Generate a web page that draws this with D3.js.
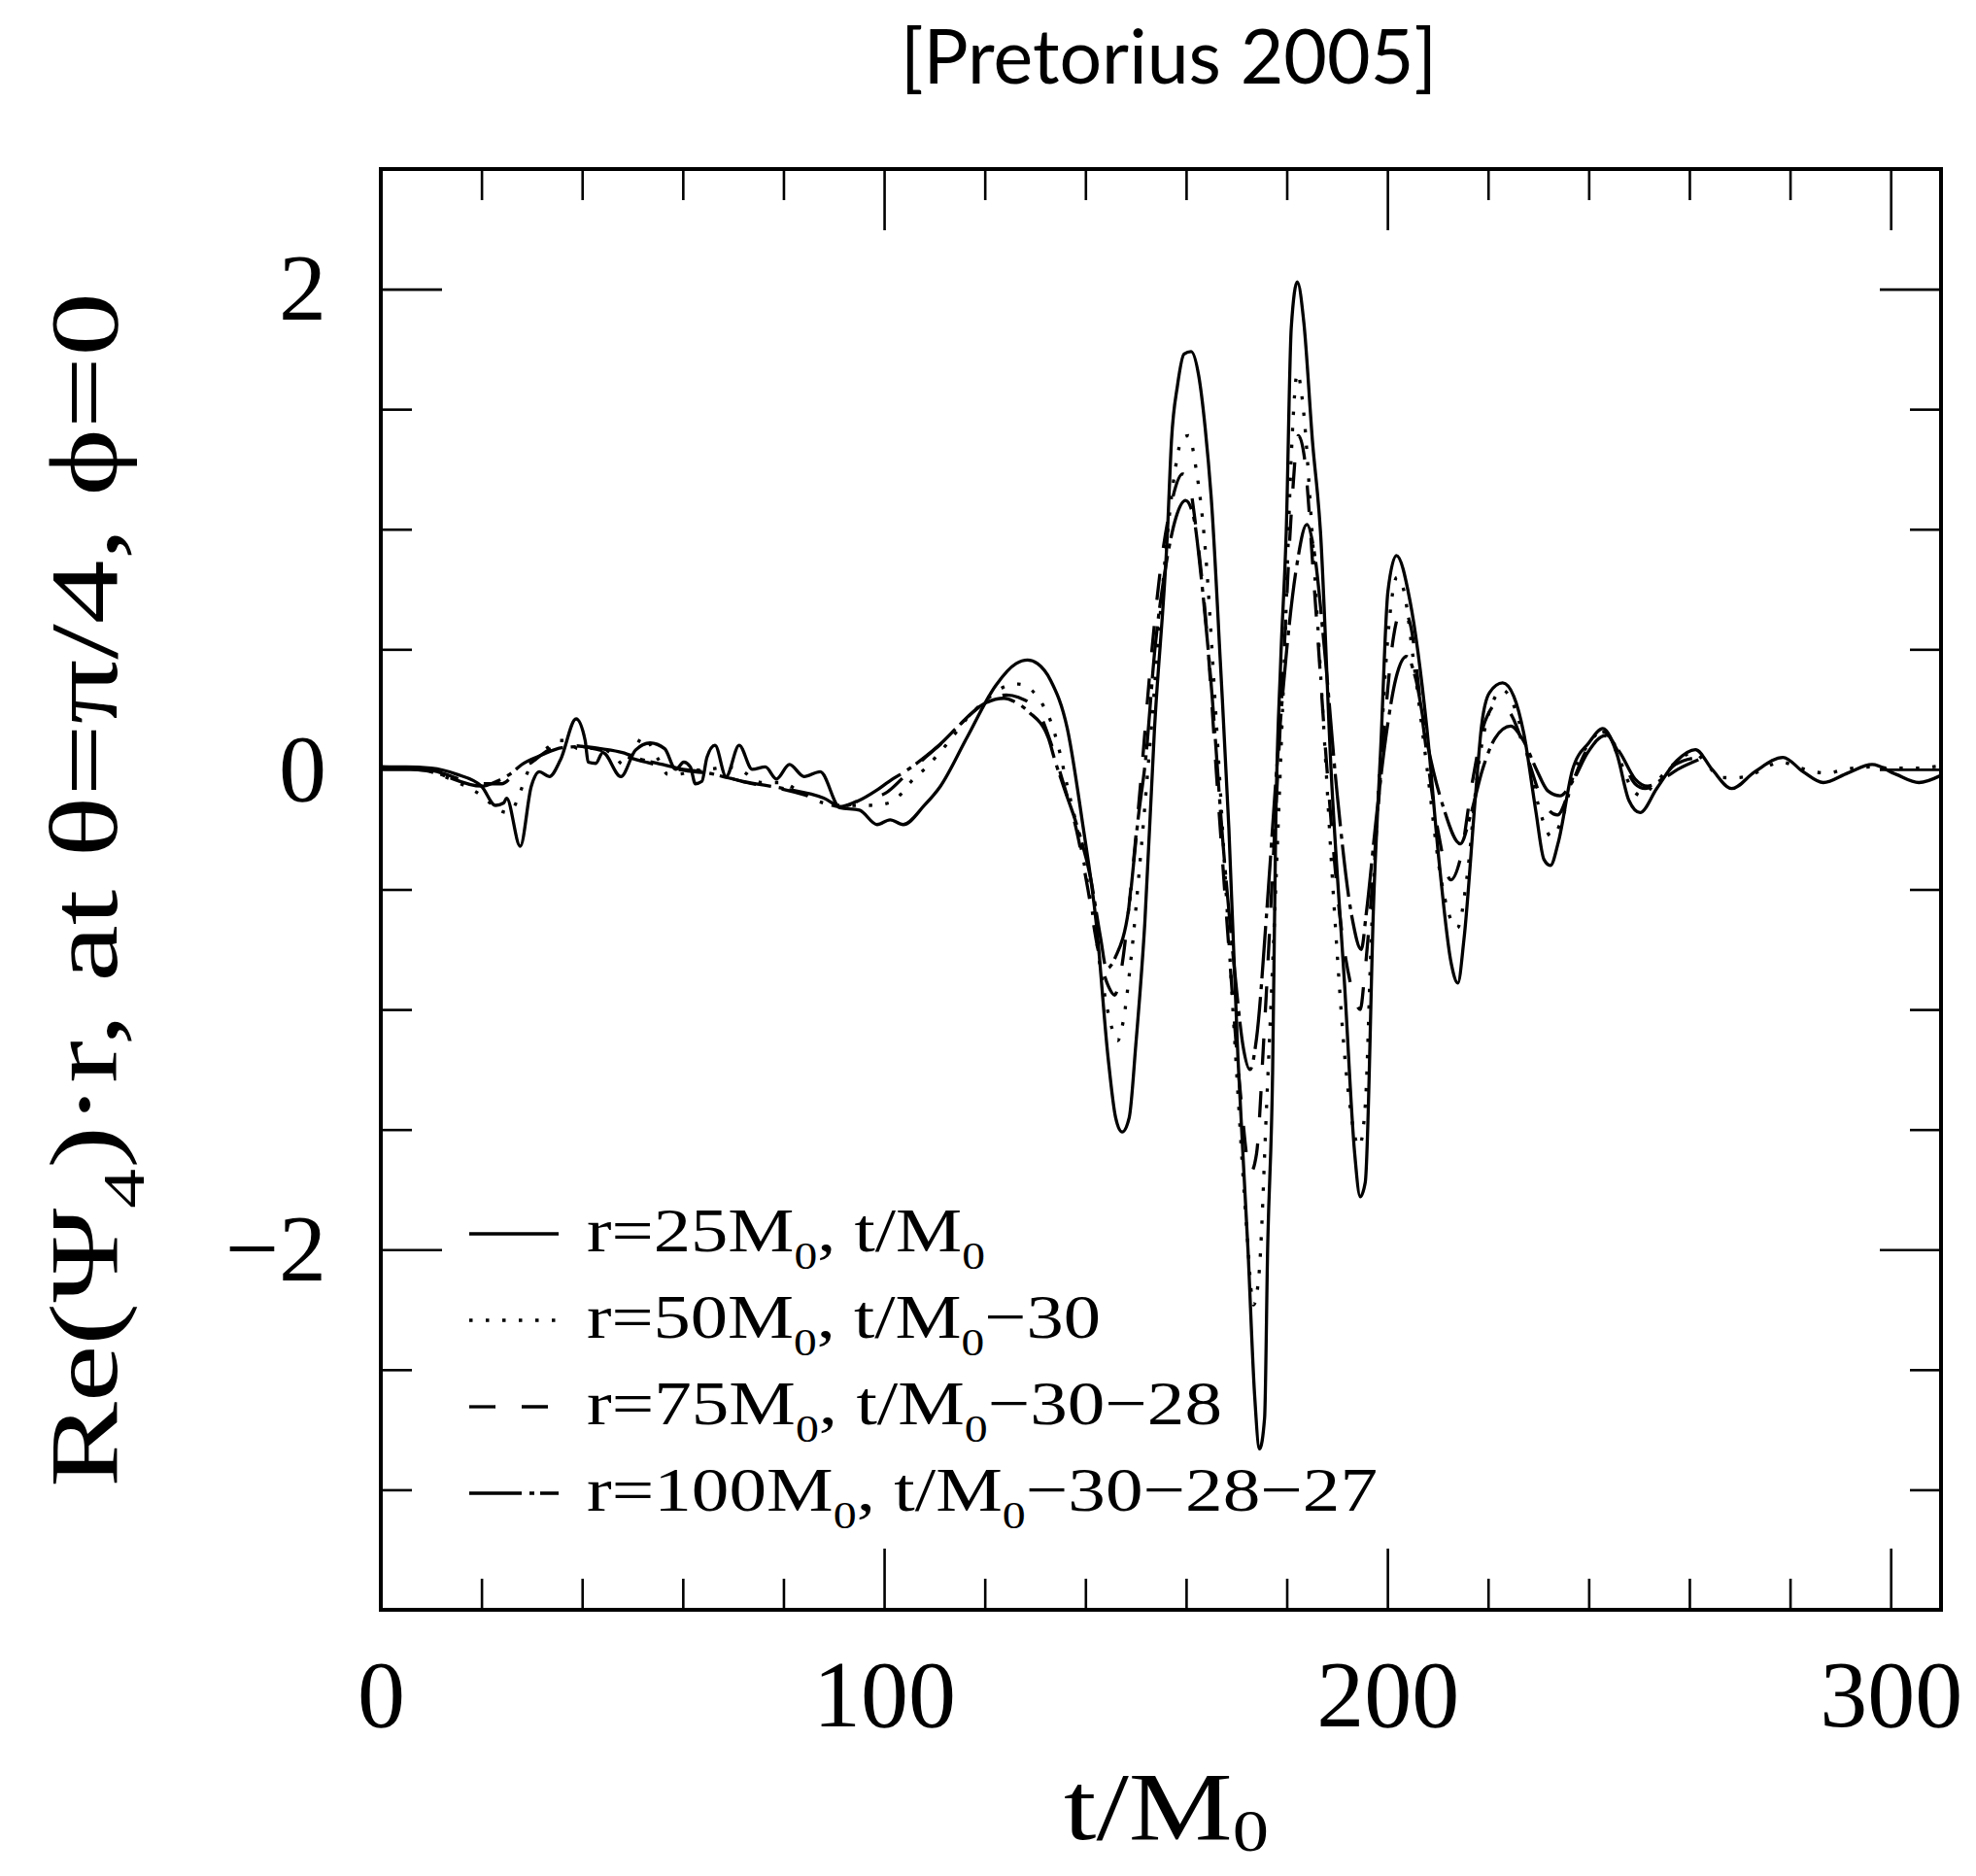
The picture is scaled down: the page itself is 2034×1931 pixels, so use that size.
<!DOCTYPE html>
<html>
<head>
<meta charset="utf-8">
<script src="https://cdn.jsdelivr.net/npm/d3@7"></script>
<style>
  body { margin: 0; background: #fff; }
  .frame { fill: none; stroke: #000; stroke-width: 4; }
  .ticks path.domain, .labels path.domain { display: none; }
  .ticks line { stroke: #000; stroke-width: 2.6; }
  .labels text { font-family: "Liberation Serif", serif; font-size: 98px; fill: #000; }
  .lc-line { fill: none; stroke: #000; stroke-width: 3.3; stroke-linejoin: round; }
  .lc-label { font-family: "Liberation Serif", serif; fill: #000; }
  .title { font-family: "Lato", sans-serif; font-weight: 400; font-size: 78px; fill: #000; }
</style>
</head>
<body>
<div id="chart"></div>
<script>
// Re(Psi4) r waveforms, four extraction radii, shifted in time

// [t, value]
var r25 = [
    [0, 0.01], [5, 0.01], [10, 0.005], [15, -0.02], [20, -0.07], [22.8, -0.15], [24.4, -0.14], [25, -0.12],
    [27.7, -0.32], [29.9, -0.07], [31.5, -0.01], [33.5, -0.03], [35.7, 0.04], [38.8, 0.21], [40.6, 0.12],
    [41.2, 0.03], [42.7, 0.025], [44.1, 0.07], [47.7, -0.03], [50.6, 0.08], [53.5, 0.11], [56.4, 0.086],
    [58.6, 0.0], [60.2, 0.03], [61.5, 0.01], [62.5, -0.06], [63.8, -0.05], [64.8, 0.05], [66.4, 0.10],
    [68.6, -0.03], [71.2, 0.10], [73.8, 0.0], [76.4, 0.01], [78.6, -0.04], [81.2, 0.02], [84.1, -0.03],
    [87.3, -0.01], [91.2, -0.16], [95.1, -0.17], [98.6, -0.23], [101.2, -0.21], [103.8, -0.23], [108, -0.15],
    [111.2, -0.07], [116.4, 0.13], [122.2, 0.35], [126.2, 0.44], [128.5, 0.455], [130.5, 0.44], [133.1, 0.37],
    [136.4, 0.17], [139.4, -0.22], [142.2, -0.65], [144.5, -1.2], [146, -1.45], [147.3, -1.51], [148.7, -1.45],
    [150, -1.15], [151.8, -0.64], [153.7, 0.16], [156.3, 0.99], [157.1, 1.37], [158.3, 1.60], [159.6, 1.73],
    [161, 1.74], [162.5, 1.64], [163.8, 1.42], [165.1, 1.10], [166.8, 0.45], [168.5, -0.245], [170.3, -1.2],
    [172.3, -2.0], [173.6, -2.6], [174.6, -2.83], [175.6, -2.7], [176.2, -2.0], [177.2, -1.25], [177.8, -0.25],
    [178.8, 0.45], [179.9, 0.99], [180.9, 1.84], [182.1, 2.03], [183.4, 1.86], [185.1, 1.37], [186.7, 0.99],
    [188.8, 0.0], [191.5, -0.9], [193.5, -1.6], [194.6, -1.78], [195.6, -1.72], [197.3, -0.53], [198.7, 0.1],
    [200.1, 0.74], [201.8, 0.89], [204.5, 0.70], [207.8, 0.18], [210.3, -0.39], [212.7, -0.81], [214.0, -0.89],
    [215.2, -0.71], [217.5, -0.11], [218.7, 0.18], [220.3, 0.32], [222.9, 0.36], [225.1, 0.305], [227.1, 0.15],
    [229.5, -0.175], [231.1, -0.375], [232.4, -0.40], [234, -0.30], [236.8, 0.0], [240, 0.11], [242.8, 0.17],
    [245.6, 0.064], [248, -0.13], [250.2, -0.18], [253.5, -0.08], [257.5, 0.036], [261.2, 0.082], [264.5, 0.0],
    [268.4, -0.08], [273, -0.01], [278.6, 0.05], [282.6, -0.01], [286.6, -0.055], [291.5, -0.015], [296.3, 0.02],
    [301, -0.02], [305.6, -0.055], [310, -0.025]
];

var r50 = [
    [0, 0.01], [8, 0.0], [13.8, -0.04], [19, -0.095], [25.1, -0.18], [26.5, -0.155], [27.7, -0.095], [29, -0.02],
    [31, 0.05], [33.1, 0.09], [35.4, 0.12], [37, 0.12], [39.1, 0.087], [43.6, 0.087], [46.2, 0.06], [48.2, 0.02],
    [50.2, 0.07], [52, 0.135], [55.2, 0.04], [57, -0.02], [59.2, -0.02], [62.1, -0.005], [65.3, 0.0], [68.5, 0.01],
    [71.2, 0.0], [75.7, -0.055], [79.6, -0.055], [83.4, -0.095], [88, -0.14], [91.2, -0.15], [97, -0.15],
    [100.9, -0.14], [103.5, -0.10], [105.4, -0.05], [108.2, 0.005], [112.5, 0.106], [116.4, 0.21], [120.3, 0.29],
    [124.7, 0.35], [126.7, 0.355], [129.3, 0.33], [131.5, 0.27], [133.1, 0.2], [134.8, 0.08], [136.4, -0.07],
    [138.3, -0.24], [140.2, -0.445], [141.5, -0.61], [143.5, -0.9], [145.3, -1.08], [146.4, -1.13], [147.5, -1.05],
    [149, -0.8], [151, -0.35], [153.2, 0.2], [155.5, 0.8], [157.5, 1.2], [159.3, 1.38], [160.5, 1.39], [162, 1.25],
    [163.6, 0.97], [166, 0.2], [168.2, -0.6], [170.3, -1.35], [172, -1.9], [173.4, -2.23], [174.5, -2.1],
    [176, -1.4], [177.8, -0.5], [179.6, 0.5], [181, 1.35], [182.1, 1.65], [183.3, 1.5], [185, 1.0], [187, 0.3],
    [189.5, -0.6], [192, -1.3], [194.4, -1.57], [195.6, -1.4], [196.8, -0.7], [198.6, 0.05], [200.3, 0.6],
    [201.9, 0.80], [203.2, 0.75], [205.2, 0.45], [207.9, 0.0], [210.6, -0.45], [213.9, -0.66], [215.8, -0.45],
    [218, 0.0], [220.4, 0.25], [222.9, 0.33], [225.4, 0.25], [227.9, 0.05], [230.4, -0.18], [232.6, -0.28],
    [234.8, -0.2], [237.3, 0.0], [239.8, 0.1], [242.8, 0.16], [245.8, 0.06], [248.3, -0.07], [250.4, -0.11],
    [253.5, -0.05], [256.8, 0.02], [260.8, 0.07], [264, 0.008], [266, -0.034], [268.9, -0.035], [272.1, -0.025],
    [275.3, 0.01], [278.2, 0.03], [281.5, 0.01], [284.6, -0.01], [287.6, -0.015], [290.8, 0.0], [296, 0.01],
    [300, 0.005], [305, 0.005], [310, 0.015]
];

var r75 = [
    [0, 0.01], [10, -0.005], [20, -0.06], [24, -0.06], [27, -0.01], [30, 0.03], [33.8, 0.086], [37, 0.10],
    [40, 0.095], [43.6, 0.08], [47.5, 0.06], [52.7, 0.03], [56.6, 0.01], [60.5, -0.005], [66.3, -0.02],
    [72.7, -0.055], [79.2, -0.08], [85.6, -0.115], [91.2, -0.155], [95, -0.13], [100.2, -0.10], [104, -0.03],
    [108.2, 0.05], [112, 0.12], [117.2, 0.23], [121, 0.29], [124.3, 0.31], [126.7, 0.30], [130.6, 0.24],
    [133.2, 0.106], [135.5, -0.05], [138.3, -0.26], [140.5, -0.5], [142.5, -0.75], [144.5, -0.9], [145.8, -0.94],
    [147, -0.85], [149, -0.5], [151, -0.05], [153, 0.45], [155, 0.85], [157, 1.1], [159.3, 1.23], [160.5, 1.2],
    [162, 1.0], [164, 0.6], [166.3, -0.1], [168.7, -0.8], [170.8, -1.35], [172.8, -1.68], [174, -1.6],
    [175.5, -1.1], [177.5, -0.3], [179.5, 0.5], [181, 1.1], [182.3, 1.39], [183.5, 1.3], [185.5, 0.75], [188, 0.0],
    [190.5, -0.6], [193, -0.92], [194.6, -1.0], [195.5, -0.85], [197.3, -0.4], [199.3, 0.15], [201.2, 0.55],
    [203, 0.67], [204.6, 0.6], [207, 0.2], [210, -0.25], [212.6, -0.46], [214.4, -0.38], [216.9, -0.05],
    [219.4, 0.2], [222.3, 0.28], [224.8, 0.22], [227.8, 0.05], [230.8, -0.13], [233.8, -0.19], [236.3, -0.08],
    [239.3, 0.07], [243, 0.155], [246.2, 0.06], [249.2, -0.06], [251.2, -0.08], [253.7, -0.05], [257.2, 0.02],
    [261.7, 0.05]
];

var r100 = [
    [0, 0.01], [10, -0.01], [20, -0.07], [23, -0.05], [26, -0.015], [28, 0.02], [32, 0.06], [36, 0.09],
    [40, 0.095], [44, 0.085], [48, 0.07], [52, 0.04], [56, 0.02], [60, 0.0], [64, -0.01], [68, -0.03],
    [72, -0.05], [80, -0.08], [88, -0.12], [91.5, -0.155], [95, -0.13], [98.3, -0.09], [101, -0.05],
    [104.8, 0.0], [108, 0.05], [111.2, 0.106], [115.1, 0.187], [119.6, 0.27], [123.8, 0.296], [126.1, 0.28],
    [128.7, 0.24], [132.6, 0.133], [133.9, 0.04], [135.8, -0.08], [138.4, -0.24], [141, -0.45], [143, -0.7],
    [144.2, -0.83], [146, -0.78], [148.6, -0.58], [150.5, -0.2], [152, 0.05], [153.8, 0.50], [156, 0.85],
    [158, 1.05], [159.9, 1.12], [161.5, 1.05], [163, 0.8], [165, 0.35], [167.3, -0.3], [169.7, -0.85],
    [171.3, -1.15], [172.7, -1.25], [174, -1.12], [176, -0.6], [178, 0.0], [180, 0.5], [182, 0.85], [184, 1.02],
    [185.5, 0.9], [187.5, 0.5], [190, -0.1], [193, -0.62], [194.8, -0.75], [195.8, -0.6], [197.8, -0.2],
    [199.8, 0.15], [201.7, 0.38], [203.8, 0.47], [205.6, 0.38], [208, 0.1], [211, -0.15], [214.5, -0.31],
    [216.4, -0.2], [218.9, 0.0], [221.4, 0.13], [224.5, 0.18], [227, 0.12], [229.6, 0.0], [231.9, -0.09],
    [234.3, -0.11], [236.8, -0.05], [239.8, 0.07], [243.2, 0.14], [246.2, 0.07], [249.2, -0.04], [251.7, -0.07],
    [254.7, -0.04], [257.7, 0.0], [261.8, 0.04]
];

// legend text, "_x" marks a subscript
var legend_labels = [
    "r=25M_0,  t/M_0",
    "r=50M_0,  t/M_0\u221230",
    "r=75M_0,  t/M_0\u221230\u221228",
    "r=100M_0,  t/M_0\u221230\u221228\u221227"
];

var x_major_ticks = [0, 100, 200, 300];
var x_minor_ticks = [20, 40, 60, 80, 120, 140, 160, 180, 220, 240, 260, 280];
var y_major_ticks = [-2, 0, 2];
var y_minor_ticks = [-3, -2.5, -1.5, -1, -0.5, 0.5, 1, 1.5];

var series = [
    { data: r25,  dash: null,         text_len: 410 },
    { data: r50,  dash: "3.5,13.5",   text_len: 529 },
    { data: r75,  dash: "27,27",      text_len: 654 },
    { data: r100, dash: "54,8,5,6",   text_len: 814 }
];

var margin = { top: 174, right: 2034 - 1998, bottom: 1931 - 1657, left: 392 },
    width = 2034 - margin.left - margin.right,
    height = 1931 - margin.top - margin.bottom;

var x_scale = d3.scaleLinear().domain([0, 310]).range([0, width]);
var y_scale = d3.scaleLinear().domain([-3.5, 2.5]).range([height, 0]);

var root = d3.select("#chart").append("svg")
    .attr("width", 2034)
    .attr("height", 1931);

// title
root.append("text")
    .attr("class", "title")
    .attr("x", 927)
    .attr("y", 86)
    .attr("textLength", 552)
    .attr("lengthAdjust", "spacingAndGlyphs")
    .text("[Pretorius 2005]");

var svg = root.append("g")
    .attr("transform", "translate(" + margin.left + "," + margin.top + ")");

svg.append("clipPath").attr("id", "plot-clip")
    .append("rect").attr("width", width).attr("height", height);

// add text with subscripts ("_x")
function add_rich( sel, str, size, drop )
{
    var parts = str.split("_");
    sel.append("tspan").text(parts[0]);
    for (var i = 1; i < parts.length; i++)
    {
        sel.append("tspan")
            .style("font-size", (size * 0.62) + "px")
            .attr("dy", size * drop)
            .text(parts[i].charAt(0));
        if (parts[i].length > 1)
            sel.append("tspan").attr("dy", -size * drop).text(parts[i].slice(1));
    }
}

// inward ticks on all four sides
function tick_axis( gen, scale, values, len, transform )
{
    svg.append("g")
        .attr("class", "ticks")
        .attr("transform", transform)
        .call(gen(scale).tickValues(values).tickSize(-len).tickFormat(""));
}
tick_axis(d3.axisBottom, x_scale, x_major_ticks, 63, "translate(0," + height + ")");
tick_axis(d3.axisBottom, x_scale, x_minor_ticks, 32, "translate(0," + height + ")");
tick_axis(d3.axisTop, x_scale, x_major_ticks, 63, "translate(0,0)");
tick_axis(d3.axisTop, x_scale, x_minor_ticks, 32, "translate(0,0)");
tick_axis(d3.axisLeft, y_scale, y_major_ticks, 63, "translate(0,0)");
tick_axis(d3.axisLeft, y_scale, y_minor_ticks, 32, "translate(0,0)");
tick_axis(d3.axisRight, y_scale, y_major_ticks, 63, "translate(" + width + ",0)");
tick_axis(d3.axisRight, y_scale, y_minor_ticks, 32, "translate(" + width + ",0)");

// tick labels
svg.append("g")
    .attr("class", "labels")
    .attr("transform", "translate(0," + height + ")")
    .call(d3.axisBottom(x_scale).tickValues(x_major_ticks).tickSize(0).tickPadding(50));

svg.append("g")
    .attr("class", "labels")
    .call(d3.axisLeft(y_scale).tickValues(y_major_ticks).tickSize(0).tickPadding(56)
        .tickFormat(function(d) { return d < 0 ? "\u2212" + Math.abs(d) : d; }));

// the curves
var line = d3.line()
    .x(function(d) { return x_scale(d[0]); })
    .y(function(d) { return y_scale(d[1]); })
    .curve(d3.curveMonotoneX);

series.forEach(function(s) {
    svg.append("path")
        .datum(s.data)
        .attr("class", "lc-line")
        .attr("clip-path", "url(#plot-clip)")
        .attr("d", line)
        .attr("stroke-dasharray", s.dash);
});

// frame
svg.append("rect")
    .attr("class", "frame")
    .attr("width", width)
    .attr("height", height);

// legend
var legend = root.append("g");
series.forEach(function(s, i) {
    var base = 1288 + i * 89;
    legend.append("line")
        .attr("class", "lc-line")
        .attr("x1", 483).attr("x2", 575)
        .attr("y1", base - 18).attr("y2", base - 18)
        .attr("stroke-dasharray", s.dash);
    var t = legend.append("text")
        .attr("class", "lc-label")
        .attr("x", 604)
        .attr("y", base)
        .attr("textLength", s.text_len)
        .attr("lengthAdjust", "spacingAndGlyphs")
        .style("font-size", "64px");
    add_rich(t, legend_labels[i], 64, 0.28);
});

// text label for the x axis
var xl = root.append("text")
    .attr("class", "lc-label")
    .attr("x", 1095)
    .attr("y", 1893)
    .attr("textLength", 211)
    .attr("lengthAdjust", "spacingAndGlyphs")
    .style("font-size", "100px");
add_rich(xl, "t/M_0", 100, 0.12);

// text label for the y axis
var yl = root.append("text")
    .attr("class", "lc-label")
    .attr("transform", "translate(120,1531) rotate(-90)")
    .attr("textLength", 1230)
    .attr("lengthAdjust", "spacingAndGlyphs")
    .style("font-size", "100px");
add_rich(yl, "Re(\u03a8_4)\u00b7r,  at \u03b8=\u03c0/4,  \u03d5=0", 100, 0.28);
</script>
</body>
</html>
